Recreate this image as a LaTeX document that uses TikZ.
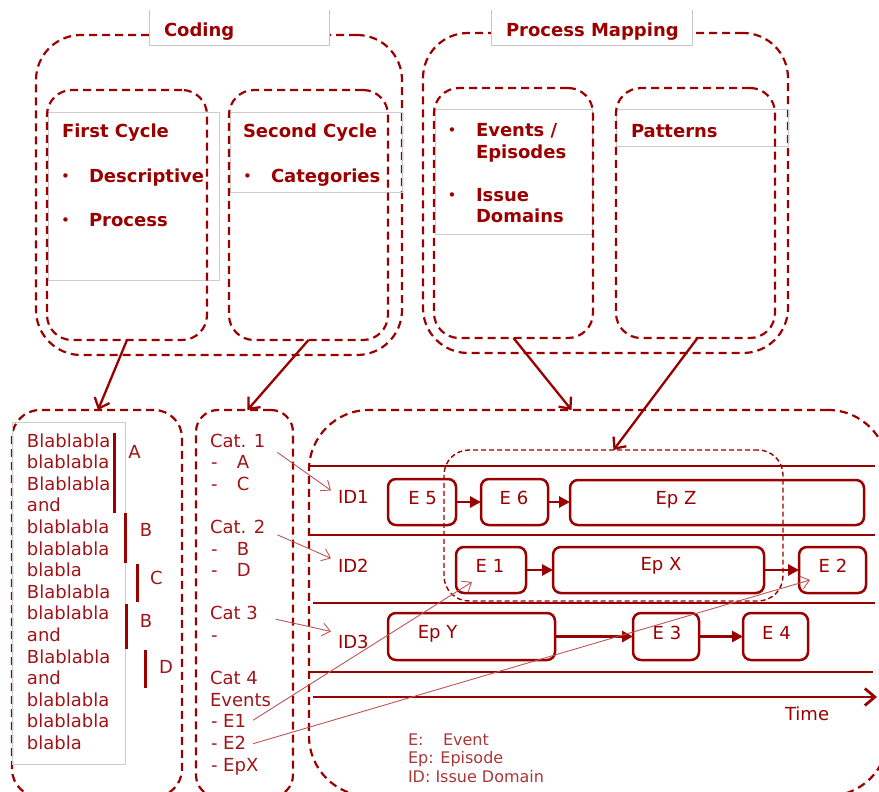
\documentclass[tikz,border=0pt]{standalone}
\usepackage{fontspec}
\setmainfont{DejaVu Sans}
\usetikzlibrary{arrows.meta,calc}
\definecolor{dred}{RGB}{155,0,0}
\definecolor{tred}{RGB}{160,20,25}
\definecolor{lred}{RGB}{190,85,85}
\definecolor{legred}{RGB}{170,55,55}
\definecolor{gline}{RGB}{205,205,205}
\begin{document}
\begin{tikzpicture}[x=1pt,y=-1pt,
  every node/.style={inner sep=0pt,outer sep=0pt,text=dred},
  dbox/.style={draw=dred,line width=2.2pt,dash pattern=on 8pt off 5pt,rounded corners=#1,rectangle},
  sbox/.style={draw=dred,line width=1.4pt,dash pattern=on 5pt off 3pt,rounded corners=25pt,rectangle},
  grect/.style={draw=gline,line width=1pt},
  evbox/.style={draw=dred,line width=2.5pt,rounded corners=8pt,rectangle},
  flow/.style={draw=dred,line width=2.8pt,-{Triangle[length=11pt,width=11pt]}},
  bigarrow/.style={draw=dred,line width=2.3pt,-{Straight Barb[length=9pt,width=16pt]}},
  thinarrow/.style={draw=lred,line width=0.9pt,-{Straight Barb[length=8pt,width=13pt]}},
  hline/.style={draw=dred,line width=2.3pt},
  bfont/.style={font=\fontsize{18}{22}\selectfont\bfseries},
  bulfont/.style={font=\fontsize{15}{18}\selectfont},
  rfont/.style={font=\fontsize{18}{21.6}\selectfont},
  tfont/.style={font=\fontsize{18}{21.6}\selectfont,text=tred},
  lfont/.style={font=\fontsize{16}{19}\selectfont,text=legred},
  bar/.style={draw=dred,line width=3pt}
]
\useasboundingbox (0,0) rectangle (879,792);

% ---------- top groups ----------
\node[dbox=45pt,minimum width=366pt,minimum height=320pt] (coding) at (219,195) {};
\node[dbox=45pt,minimum width=365pt,minimum height=320pt] (pm) at (605.5,193) {};

\draw[grect] (48,113) rectangle (219,280);
\draw[grect] (230,113) rectangle (402,192);
\draw[grect] (435,110) rectangle (592,234);
\draw[grect] (616,110) rectangle (788,146);

\node[dbox=25pt,minimum width=160pt,minimum height=250pt] (fc) at (127,215) {};
\node[dbox=25pt,minimum width=159pt,minimum height=250pt] (sc) at (308.5,215) {};
\node[dbox=25pt,minimum width=159pt,minimum height=250pt] (ev) at (513.5,213) {};
\node[dbox=25pt,minimum width=159pt,minimum height=250pt] (pat) at (695.5,213) {};

% title boxes
\node[fill=white,minimum width=180pt,minimum height=36pt] (t1) at (239,28) {};
\draw[draw=gray!45,line width=1pt] (t1.north west) -- (t1.south west) -- (t1.south east) -- (t1.north east);
\node[fill=white,minimum width=201pt,minimum height=36pt] (t2) at (591.5,28) {};
\draw[draw=gray!45,line width=1pt] (t2.north west) -- (t2.south west) -- (t2.south east) -- (t2.north east);
\node[bfont,anchor=base west] (codingtxt) at (164,37) {Coding};
\node[bfont,anchor=base west] (pmtxt) at (506,37) {Process Mapping};

\node[bfont,anchor=base west] (fct) at (62,138) {First Cycle};
\node[bulfont,anchor=base] (fcb1) at (65.5,181) {•};
\node[bfont,anchor=base west] (fc1) at (89,182) {Descriptive};
\node[bulfont,anchor=base] (fcb2) at (65.5,225) {•};
\node[bfont,anchor=base west] (fc2) at (89,226) {Process};

\node[bfont,anchor=base west] (sct) at (243,138) {Second Cycle};
\node[bulfont,anchor=base] (scb1) at (247.5,181) {•};
\node[bfont,anchor=base west] (sc1) at (271,182) {Categories};

\node[bulfont,anchor=base] (evb1) at (452,135.5) {•};
\node[bfont,anchor=base west] (ev1) at (476,136.5) {Events /};
\node[bfont,anchor=base west] (ev2) at (476,158) {Episodes};
\node[bulfont,anchor=base] (evb2) at (452,200) {•};
\node[bfont,anchor=base west] (ev3) at (476,201) {Issue};
\node[bfont,anchor=base west] (ev4) at (476,222.5) {Domains};

\node[bfont,anchor=base west] (patt) at (631,137) {Patterns};

% ---------- bottom boxes ----------
\node[dbox=28pt,minimum width=170pt,minimum height=387pt] (lb) at (97,603.5) {};
\node[dbox=22pt,minimum width=97pt,minimum height=387pt] (mb) at (244.5,603.5) {};
\node[dbox=60pt,minimum width=579pt,minimum height=386pt] (big) at (598.5,603) {};

\draw[grect] (12,422) rectangle (125,764);

\foreach \w [count=\i from 0] in {Blablabla,blablabla,Blablabla,and,blablabla,blablabla,blabla,Blablabla,blablabla,and,Blablabla,and,blablabla,blablabla,blabla}
  \node[tfont,anchor=base west] (lt\i) at (27,{447+21.6*\i}) {\w};

\draw[bar] (114,433) -- (114,513);
\draw[bar] (125.5,513) -- (125.5,563);
\draw[bar] (137,564) -- (137,602);
\draw[bar] (126,604) -- (126,649);
\draw[bar] (145,650) -- (145,688);
\node[tfont,anchor=base] (lA) at (134.5,458) {A};
\node[tfont,anchor=base] (lB) at (146,536) {B};
\node[tfont,anchor=base] (lC) at (156.5,584) {C};
\node[tfont,anchor=base] (lB2) at (146,627) {B};
\node[tfont,anchor=base] (lD) at (166,673) {D};

% category list
\node[tfont,anchor=base west] (cat1) at (210,447) {Cat. 1};
\node[tfont,anchor=base west] (cat1a) at (211,468.6) {-\hspace{19.5pt}A};
\node[tfont,anchor=base west] (cat1c) at (211,490.2) {-\hspace{19.5pt}C};
\node[tfont,anchor=base west] (cat2) at (210,533.4) {Cat. 2};
\node[tfont,anchor=base west] (cat2b) at (211,555) {-\hspace{19.5pt}B};
\node[tfont,anchor=base west] (cat2d) at (211,576.6) {-\hspace{19.5pt}D};
\node[tfont,anchor=base west] (cat3) at (210,619.8) {Cat 3};
\node[tfont,anchor=base west] (cat3a) at (211,641.4) {-};
\node[tfont,anchor=base west] (cat4) at (210,684.6) {Cat 4};
\node[tfont,anchor=base west] (cat4ev) at (210,706.2) {Events};
\node[tfont,anchor=base west] (ce1) at (211,727.8) {- E1};
\node[tfont,anchor=base west] (ce2) at (211,749.4) {- E2};
\node[tfont,anchor=base west] (cepx) at (211,771) {- EpX};

% timeline lines
\coordinate (l1a) at (310,466); \coordinate (l1b) at (875,466);
\coordinate (l2a) at (310,535); \coordinate (l2b) at (875,535);
\coordinate (l3a) at (313,603); \coordinate (l3b) at (875,603);
\coordinate (l4a) at (310,672); \coordinate (l4b) at (873,672);
\coordinate (ta) at (313,697); \coordinate (tb) at (877,697);
\draw[hline] (l1a) -- (l1b);
\draw[hline] (l2a) -- (l2b);
\draw[hline] (l3a) -- (l3b);
\draw[hline] (l4a) -- (l4b);
\draw[draw=dred,line width=2.8pt,-{Straight Barb[length=10pt,width=17pt]}] (ta) -- (tb);
\node[rfont,anchor=base west] (time) at (785,720) {Time};

\node[rfont,anchor=base west] (id1) at (338,503) {ID1};
\node[rfont,anchor=base west] (id2) at (338,572) {ID2};
\node[rfont,anchor=base west] (id3) at (338,648) {ID3};

% events and episodes
\node[evbox,minimum width=68pt,minimum height=46pt] (e5) at (422,502) {};
\node[evbox,minimum width=67pt,minimum height=46pt] (e6) at (514.5,502) {};
\node[evbox,minimum width=294pt,minimum height=45pt] (epz) at (717,502.5) {};
\node[evbox,minimum width=70pt,minimum height=46pt] (e1) at (491,570) {};
\node[evbox,minimum width=211pt,minimum height=46pt] (epx) at (658.5,570) {};
\node[evbox,minimum width=67pt,minimum height=46pt] (e2) at (832.5,570) {};
\node[evbox,minimum width=167pt,minimum height=47pt] (epy) at (471.5,636.5) {};
\node[evbox,minimum width=66pt,minimum height=47pt] (e3) at (666,636.5) {};
\node[evbox,minimum width=65pt,minimum height=47pt] (e4) at (775.5,636.5) {};

\node[rfont,anchor=base] (e5t) at (422.6,504) {E 5};
\node[rfont,anchor=base] (e6t) at (514,504) {E 6};
\node[rfont,anchor=base] (epzt) at (676,504) {Ep Z};
\node[rfont,anchor=base] (e1t) at (490,572) {E 1};
\node[rfont,anchor=base] (epxt) at (661,570) {Ep X};
\node[rfont,anchor=base] (e2t) at (833,572) {E 2};
\node[rfont,anchor=base] (epyt) at (437.6,638) {Ep Y};
\node[rfont,anchor=base] (e3t) at (667,639) {E 3};
\node[rfont,anchor=base] (e4t) at (776.5,639) {E 4};

\draw[flow] (e5.east) -- (e6.west);
\draw[flow] (e6.east) -- (e6.east -| epz.west);
\draw[flow] (e1.east) -- (e1.east -| epx.west);
\draw[flow] (epx.east) -- (epx.east -| e2.west);
\draw[flow] (epy.east) -- (epy.east -| e3.west);
\draw[flow] (e3.east) -- (e3.east -| e4.west);

% small dashed pattern box
\node[sbox,minimum width=339pt,minimum height=151pt] (small) at (613.5,525.5) {};

% legend
\node[lfont,anchor=base west] (leg1) at (408,745) {E:};
\node[lfont,anchor=base west] (leg1b) at (443,745) {Event};
\node[lfont,anchor=base west] (leg2) at (408,763.5) {Ep: Episode};
\node[lfont,anchor=base west] (leg3) at (408,782) {ID: Issue Domain};

% big arrows
\draw[bigarrow] (fc.south) -- ($(lb.north)+(1,0)$);
\draw[bigarrow] (sc.south) -- ($(mb.north)+(3,0)$);
\draw[bigarrow] (ev.south) -- ($(big.north)+(-27,0)$);
\draw[bigarrow] ($(pat.south)+(2,0)$) -- (small.north);

% thin arrows
\draw[thinarrow] ($(cat1.east)+(12,12)$) -- ($(id1.west)+(-7,-6)$);
\draw[thinarrow] ($(cat2.east)+(12,8)$) -- ($(id2.west)+(-7,-7)$);
\draw[thinarrow] ($(cat3.east)+(18,6)$) -- ($(id3.west)+(-7,-10)$);
\draw[thinarrow] ($(ce1.east)+(7,-1)$) -- ($(e1.south west)+(16,-11)$);
\draw[thinarrow] ($(ce2.east)+(7,1)$) -- ($(e2.south west)+(11,-13)$);
\end{tikzpicture}
\end{document}
